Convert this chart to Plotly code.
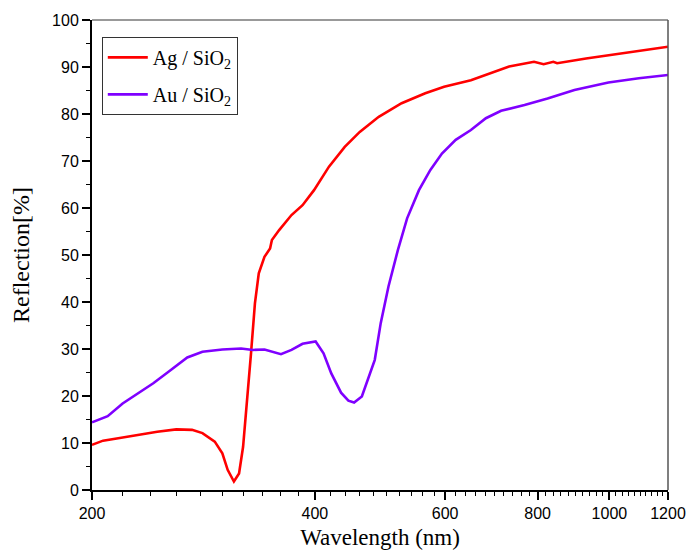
import plotly.graph_objects as go
import math

# Ag / SiO2 reflection spectrum
ag_wl = [200, 207, 217, 231, 245, 260, 273, 282, 293, 300, 305, 311, 316, 320, 324, 328,
         332, 336, 342, 348, 350, 358, 372, 385, 399, 418, 439, 460, 488, 524, 564, 598,
         650, 690, 732, 791, 815, 840, 850, 930, 1046, 1200]
ag_r = [9.6, 10.5, 11.0, 11.7, 12.4, 12.9, 12.8, 12.1, 10.3, 7.8, 4.3, 1.8, 3.5, 9.2, 18.4, 29.1,
        39.7, 46.1, 49.6, 51.4, 53.2, 55.3, 58.5, 60.6, 63.8, 68.8, 73.0, 76.2, 79.4, 82.3, 84.4, 85.8,
        87.2, 88.7, 90.1, 91.1, 90.6, 91.1, 90.8, 91.8, 93.0, 94.3]

# Au / SiO2 reflection spectrum
au_wl = [200, 210, 220, 231, 242, 254, 269, 282, 300, 318, 330, 342, 360, 372, 385, 401,
         411, 421, 434, 444, 452, 463, 474, 482, 491, 503, 518, 533, 553, 573, 594, 620,
         650, 681, 714, 768, 825, 897, 997, 1096, 1200]
au_r = [14.4, 15.7, 18.4, 20.6, 22.7, 25.2, 28.2, 29.4, 29.9, 30.1, 29.8, 29.9, 28.9, 29.8, 31.1, 31.6,
        29.1, 24.8, 20.7, 19.0, 18.6, 19.9, 24.5, 27.7, 35.5, 43.3, 51.1, 57.8, 63.8, 68.1, 71.6, 74.5,
        76.6, 79.1, 80.7, 81.9, 83.3, 85.1, 86.7, 87.6, 88.3]

x_major = [200, 400, 600, 800, 1000, 1200]
x_minor = [w for w in range(220, 1200, 20) if w not in x_major]
y_major = list(range(0, 101, 10))

SERIF = "Liberation Serif"
SANS = "Liberation Sans"

fig = go.Figure()
fig.add_trace(go.Scatter(x=ag_wl, y=ag_r, mode="lines", name="Ag / SiO<sub>2</sub>",
                         legendgroup="ag",
                         line=dict(color="#FF0000", width=2.6)))
fig.add_trace(go.Scatter(x=au_wl, y=au_r, mode="lines", name="Au / SiO<sub>2</sub>",
                         legendgroup="au",
                         line=dict(color="#7F00FF", width=2.6)))

fig.update_layout(
    width=689, height=551,
    margin=dict(l=92, r=21, t=20, b=61, autoexpand=False),
    paper_bgcolor="white", plot_bgcolor="white",
    showlegend=True,
    legend=dict(x=0.017, y=0.964, xanchor="left", yanchor="top",
                bgcolor="white", bordercolor="#333333", borderwidth=1,
                font=dict(family=SERIF, size=20, color="black"),
                itemwidth=40, tracegroupgap=8),
    xaxis=dict(type="log", range=[math.log10(200), math.log10(1200)],
               automargin=False,
               tickmode="array", tickvals=x_major, ticktext=[str(v) for v in x_major],
               ticks="outside", ticklen=8, tickwidth=1.5, tickcolor="black",
               showline=True, linecolor="black", linewidth=2, mirror=False,
               showgrid=False, zeroline=False,
               tickfont=dict(family=SANS, size=16, color="black"),
               title=dict(text="Wavelength (nm)", standoff=8,
                          font=dict(family=SERIF, size=23, color="black")),
               minor=dict(tickmode="array", tickvals=x_minor, ticks="outside", ticklen=4,
                          tickwidth=1.2, tickcolor="black", showgrid=False)),
    yaxis=dict(range=[0, 100], tickmode="array", tickvals=y_major,
               automargin=False,
               ticks="outside", ticklen=8, tickwidth=1.5, tickcolor="black",
               showline=True, linecolor="black", linewidth=2, mirror=False,
               showgrid=False, zeroline=False,
               tickfont=dict(family=SANS, size=16, color="black"),
               title=dict(text="Reflection[%]", standoff=16,
                          font=dict(family=SERIF, size=24, color="black")),
               minor=dict(dtick=5, ticks="outside", ticklen=4, tickwidth=1.2,
                          tickcolor="black", showgrid=False)),
    shapes=[dict(type="line", xref="paper", yref="paper", x0=0, x1=1, y0=1, y1=1,
                 line=dict(color="#777777", width=1.5)),
            dict(type="line", xref="paper", yref="paper", x0=1, x1=1, y0=0, y1=1,
                 line=dict(color="#555555", width=1.5))],
)

fig.write_html("out.html")
